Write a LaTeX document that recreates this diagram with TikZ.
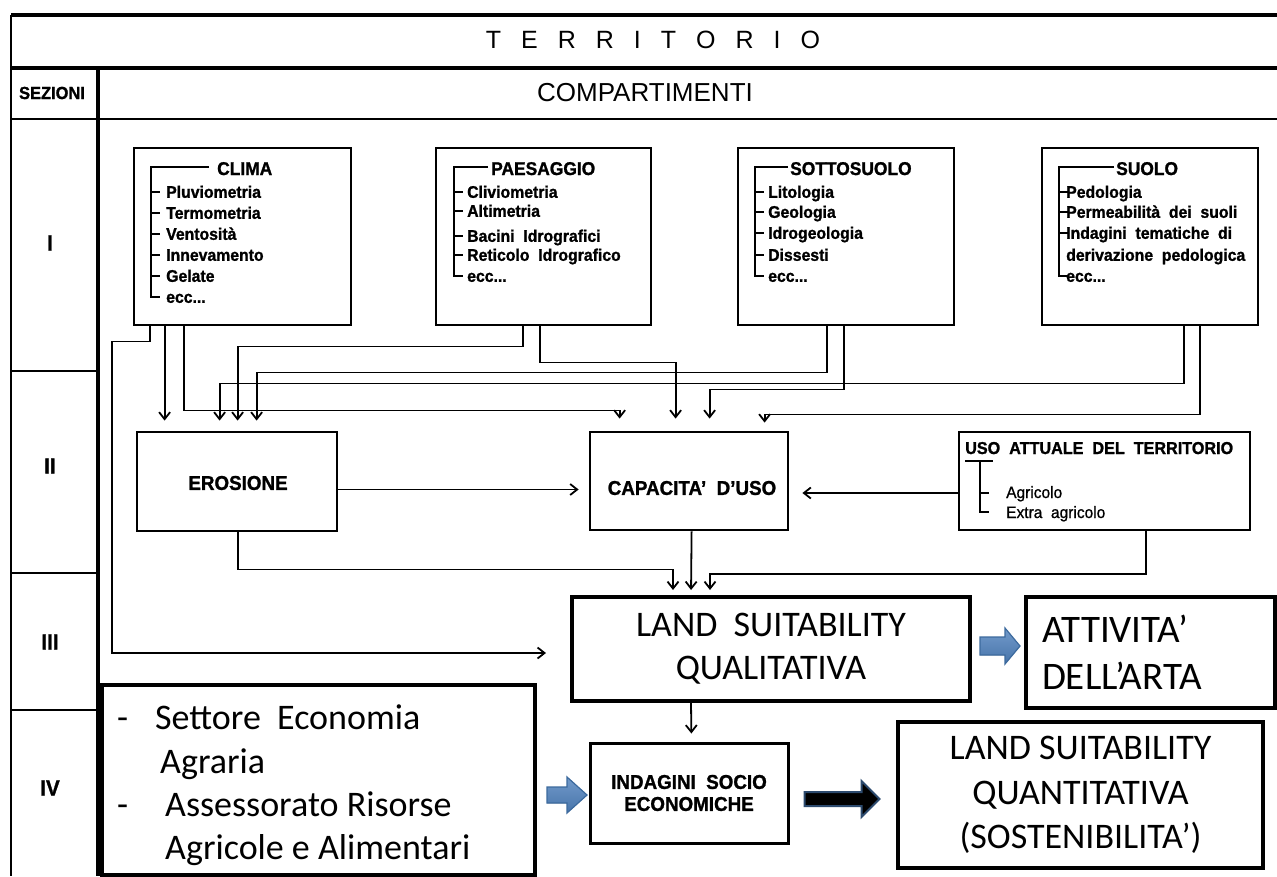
\documentclass[tikz,border=0pt]{standalone}
\usepackage{fontspec}
\setmainfont{Liberation Sans}
\newfontfamily\calibfont{Carlito}
\newfontfamily\heavyfont{Liberation Sans Bold}[FakeBold=1.2, FakeStretch=0.94]
\newfontfamily\mediumfont{Liberation Sans}[FakeBold=0.8, FakeStretch=0.94]
\usetikzlibrary{arrows.meta,calc}
\definecolor{blueA}{HTML}{4F81BD}
\definecolor{blueB}{HTML}{3C6A9E}
\definecolor{navyB}{HTML}{2C4A6E}
\newcommand\myItemFont{\heavyfont\fontsize{16.8}{19}\selectfont}
\newcommand\myTitleFont{\heavyfont\fontsize{18.5}{20}\selectfont}
\newcommand\myBoxFont{\heavyfont\fontsize{20}{22}\selectfont}
\newcommand\myGap{\hspace{20pt}}
\tikzset{
  bx/.style 2 args={draw, line width=2.8pt, minimum width=#1, minimum height=#2, inner sep=0pt},
  itm/.style={anchor=base west, inner sep=0pt, font=\myItemFont},
  ttl/.style={anchor=base west, inner sep=0pt, font=\myTitleFont},
  brk/.style={line width=1.8pt},
  arr/.style={line width=1.8pt, -{Straight Barb[length=7pt,width=11pt]}},
  barrow/.style={top color=blueA!80!white, bottom color=blueA!90!black, draw=blueB, line width=1.2pt, line join=miter},
  cal/.style={inner sep=0pt, anchor=base west, font=\calibfont\fontsize{36}{43}\selectfont},
}
\begin{document}
\begin{tikzpicture}[x=1pt,y=-1pt]
\useasboundingbox (0,0) rectangle (1277,876);
\fill[white] (0,0) rectangle (1277,876);

% ---------- frame ----------
\draw[line width=3.5pt] (11,15) -- (1277,15);
\draw[line width=3.5pt] (11,68) -- (1277,68);
\draw[line width=1.8pt] (11,119) -- (1277,119);
\draw[line width=2.5pt] (11,15) -- (11,876);
\draw[line width=4.5pt] (98,68) -- (98,876);
\foreach \y in {371,573,710} \draw[line width=1.8pt] (11,\y) -- (98,\y);

\node[font=\fontsize{25}{30}\selectfont] (terr) at (653,40) {T\myGap E\myGap R\myGap R\myGap I\myGap T\myGap O\myGap R\myGap I\myGap O};
\node[font=\heavyfont\fontsize{17.5}{20}\selectfont] (sez) at (52,93) {SEZIONI};
\node[font=\fontsize{26}{30}\selectfont] (comp) at (645,93) {COMPARTIMENTI};
\node[font=\heavyfont\fontsize{22}{24}\selectfont] (s1) at (50,243) {I};
\node[font=\heavyfont\fontsize{22}{24}\selectfont] (s2) at (50,466) {II};
\node[font=\heavyfont\fontsize{22}{24}\selectfont] (s3) at (50,642) {III};
\node[font=\heavyfont\fontsize{22}{24}\selectfont] (s4) at (50,788) {IV};

% ---------- row I ----------
\node[bx={217}{177}] (clima) at (242.5,236.5) {};
\node[bx={215}{177}] (paes)  at (543.5,236.5) {};
\node[bx={216}{177}] (sotto) at (846,236.5) {};
\node[bx={216}{177}] (suolo) at (1150,236.5) {};

% CLIMA
\draw[brk] (209,167) -- (151,167) -- (151,297) -- (160,297);
\foreach \y in {192,213,234,255,276} \draw[brk] (151,\y) -- (160,\y);
\node[ttl] at (217,175) {CLIMA};
\foreach \t/\y in {Pluviometria/192,Termometria/213,Ventosità/234,Innevamento/255,Gelate/276}
  \node[itm] at (166,\y+5.8) {\t};
\node[itm] at (166,302.8) {ecc...};

% PAESAGGIO
\draw[brk] (488,167) -- (454,167) -- (454,276) -- (463,276);
\foreach \y in {192,211,236,255} \draw[brk] (454,\y) -- (463,\y);
\node[ttl] at (491,175) {PAESAGGIO};
\foreach \t/\y in {Cliviometria/192,Altimetria/211,Bacini\ \ Idrografici/236,Reticolo\ \ Idrografico/255}
  \node[itm] at (467,\y+5.8) {\t};
\node[itm] at (467,281.8) {ecc...};

% SOTTOSUOLO
\draw[brk] (788,167) -- (755,167) -- (755,276) -- (764,276);
\foreach \y in {192,212,233,255} \draw[brk] (755,\y) -- (764,\y);
\node[ttl] at (790,175) {SOTTOSUOLO};
\foreach \t/\y in {Litologia/192,Geologia/212,Idrogeologia/233,Dissesti/255}
  \node[itm] at (768,\y+5.8) {\t};
\node[itm] at (768,281.8) {ecc...};

% SUOLO
\draw[brk] (1114,167) -- (1059,167) -- (1059,276) -- (1068,276);
\foreach \y in {192,212,233} \draw[brk] (1059,\y) -- (1068,\y);
\node[ttl] at (1116,175) {SUOLO};
\foreach \t/\y in {Pedologia/192,Permeabilità\ \ dei\ \ suoli/212,Indagini\ \ tematiche\ \ di/233,derivazione\ \ pedologica/255}
  \node[itm] at (1066,\y+5.8) {\t};
\node[itm] at (1066,281.8) {ecc...};

% ---------- row II ----------
\node[bx={200}{99}] (ero) at (237,481.5) {};
\node[font=\myBoxFont] (erotxt) at (238,483) {EROSIONE};
\node[bx={198}{98}] (cap) at (689,481) {};
\node[font=\myBoxFont] (captxt) at (692,488) {CAPACITA’\ \ D’USO};
\node[bx={291}{98}, line width=1.8pt] (uso) at (1104.5,481) {};
\node[anchor=base west, inner sep=0pt, font=\heavyfont\fontsize{17.2}{19}\selectfont] (usotit) at (965,454) {USO\ \ ATTUALE\ \ DEL\ \ TERRITORIO};
\draw[brk] (965,461) -- (993,461);
\draw[brk] (980,461) -- (980,512) -- (989,512);
\draw[brk] (980,493) -- (989,493);
\node[anchor=base west, inner sep=0pt, font=\mediumfont\fontsize{16.5}{19}\selectfont] (agr) at (1006,498) {Agricolo};
\node[anchor=base west, inner sep=0pt, font=\mediumfont\fontsize{16.5}{19}\selectfont] (extra) at (1006,518) {Extra\ \ agricolo};

% ---------- row III ----------
\node[bx={398}{104}, line width=4pt, align=center, font=\calibfont\fontsize{36}{43}\selectfont] (lsq) at (771,649) {LAND\ \ SUITABILITY\\QUALITATIVA};
\node[bx={249}{111}, line width=4pt, align=left, text width=217pt, inner xsep=16pt, font=\calibfont\fontsize{39}{47}\selectfont] (att) at (1150.5,652.5) {ATTIVITA’\\DELL’ARTA};

% ---------- row IV ----------
\node[bx={433}{190}, line width=4pt] (sett) at (318.5,780) {};
\node[cal] at (117,729) {-};
\node[cal] at (155,729) {Settore\ \ Economia};
\node[cal] at (160,773) {Agraria};
\node[cal] at (117,816) {-};
\node[cal] at (165,816) {Assessorato Risorse};
\node[cal] at (165,859) {Agricole e Alimentari};
\node[bx={198}{100}, line width=3pt, align=center, font=\myBoxFont] (ind) at (689,793) {INDAGINI\ \ SOCIO\\ECONOMICHE};
\node[bx={365}{146}, line width=4pt, align=center, font=\calibfont\fontsize{36}{44.5}\selectfont] (lsqq) at (1080.5,795) {LAND SUITABILITY\\QUANTITATIVA\\(SOSTENIBILITA’)};

% ---------- connectors ----------
\draw[arr, shorten >=24pt] ([xshift=17pt]clima.south west) -- ++(0,15) -- ++(-38,0) |- ([yshift=-4pt]lsq.west);
\draw[arr, shorten >=10pt] ([xshift=32pt]clima.south west) -- ([xshift=29pt]ero.north west);
\draw[arr, shorten >=12pt] ([xshift=51pt]clima.south west) -- ++(0,84) -| ([xshift=31pt]cap.north west);
\draw[arr, shorten >=10pt] ([xshift=88pt]paes.south west) -- ++(0,20) -| ([xshift=102pt]ero.north west);
\draw[arr, shorten >=12pt] ([xshift=105pt]paes.south west) -- ++(0,36) -| ([xshift=87pt]cap.north west);
\draw[arr, shorten >=10pt] ([xshift=90pt]sotto.south west) -- ++(0,46) -| ([xshift=121pt]ero.north west);
\draw[arr, shorten >=12pt] ([xshift=107pt]sotto.south west) -- ++(0,63) -| ([xshift=121pt]cap.north west);
\draw[arr, shorten >=10pt] ([xshift=143pt]suolo.south west) -- ++(0,57) -| ([xshift=84pt]ero.north west);
\draw[arr, shorten >=8pt] ([xshift=159pt]suolo.south west) -- ++(0,88) -| ([xshift=176pt]cap.north west);

\coordinate (e1) at ([yshift=-8pt]ero.east);
\draw[arr, shorten >=10pt] (e1) -- (e1 -| cap.west);
\coordinate (u1) at ([yshift=-12pt]uso.west);
\draw[arr, shorten >=13pt] (u1) -- (u1 -| cap.east);

\draw[arr, shorten >=5pt] ([xshift=102pt]ero.south west) -- ++(0,37) -| ([xshift=103pt]lsq.north west);
\draw[arr, shorten >=5pt] ([xshift=103pt]cap.south west) -- ([xshift=121pt]lsq.north west);
\draw[arr, shorten >=5pt] ([xshift=188pt]uso.south west) -- ++(0,43) -| ([xshift=140pt]lsq.north west);
\draw[arr, shorten >=8pt] ([xshift=121pt]lsq.south west) -- ([xshift=103pt]ind.north west);

% block arrows
\filldraw[barrow] ([xshift=8pt,yshift=12pt]lsq.east) -- ++(25,0) -- ++(0,-9) -- ++(15,18) -- ++(-15,18) -- ++(0,-9) -- ++(-25,0) -- cycle;
\filldraw[barrow] ([xshift=10pt,yshift=-7pt]sett.east) -- ++(20,0) -- ++(0,-10) -- ++(20,18) -- ++(-20,18) -- ++(0,-10) -- ++(-20,0) -- cycle;
\filldraw[fill=black, draw=navyB, line width=2pt, line join=miter] ([xshift=15pt,yshift=1pt]ind.east) -- ++(57,0) -- ++(0,-11) -- ++(18,18) -- ++(-18,18) -- ++(0,-11) -- ++(-57,0) -- cycle;
\end{tikzpicture}
\end{document}
